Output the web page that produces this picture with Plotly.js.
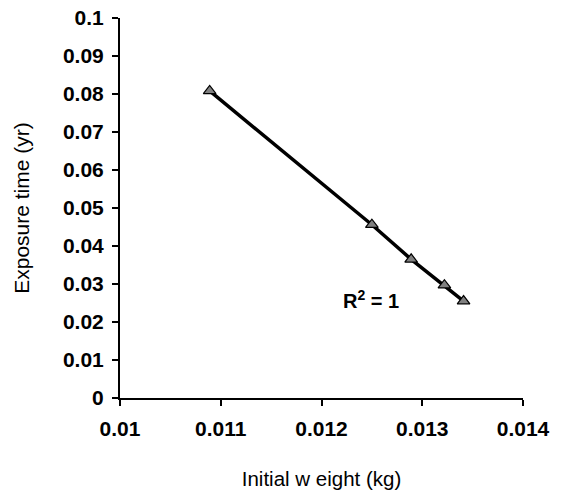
<!DOCTYPE html>
<html>
<head>
<meta charset="utf-8">
<script src="https://cdn.plot.ly/plotly-3.0.1.min.js"></script>
<style>html,body{margin:0;padding:0;background:#fff;}#chart{width:563px;height:490px;}</style>
</head>
<body>
<div id="chart"></div>
<script>
var initialWeight = [0.01089, 0.01250, 0.01289, 0.01322, 0.01341];
var exposureTime = [0.0808, 0.0456, 0.0365, 0.0297, 0.0255];
var xTickVals = [0.01, 0.011, 0.012, 0.013, 0.014];
var xTickText = ["0.01", "0.011", "0.012", "0.013", "0.014"];
var yTickVals = [0, 0.01, 0.02, 0.03, 0.04, 0.05, 0.06, 0.07, 0.08, 0.09, 0.1];
var yTickText = ["0", "0.01", "0.02", "0.03", "0.04", "0.05", "0.06", "0.07", "0.08", "0.09", "0.1"];
var r2Label = "R<sup>2</sup> = 1";

var font = "Liberation Sans, Arial, sans-serif";

var traces = [
  {
    x: initialWeight, y: exposureTime, type: "scatter", mode: "lines",
    line: {color: "#000", width: 3.5}, hoverinfo: "skip", showlegend: false
  },
  {
    x: initialWeight, y: exposureTime, type: "scatter", mode: "markers",
    marker: {symbol: "triangle-up", size: 11, color: "#808080", line: {color: "#000", width: 1.2}},
    showlegend: false
  }
];

var layout = {
  width: 563, height: 490,
  margin: {l: 120, r: 40, t: 18, b: 92},
  paper_bgcolor: "#fff", plot_bgcolor: "#fff",
  font: {family: font, color: "#000"},
  xaxis: {
    range: [0.01, 0.014], tickvals: xTickVals, ticktext: xTickText,
    showgrid: false, zeroline: false, showline: true, linecolor: "#000", linewidth: 2,
    ticks: "outside", ticklen: 6, tickwidth: 2, tickcolor: "#000",
    tickfont: {family: font, size: 21, weight: "bold"},
    ticklabelstandoff: 5,
    title: {text: "Initial w eight (kg)", font: {family: font, size: 20.5}, standoff: 32}
  },
  yaxis: {
    range: [0, 0.1], tickvals: yTickVals, ticktext: yTickText,
    showgrid: false, zeroline: false, showline: true, linecolor: "#000", linewidth: 2,
    ticks: "outside", ticklen: 6, tickwidth: 2, tickcolor: "#000",
    tickfont: {family: font, size: 21, weight: "bold"},
    ticklabelstandoff: 4,
    title: {text: "Exposure time (yr)", font: {family: font, size: 21}, standoff: 28}
  },
  annotations: [{
    x: 0.012495, y: 0.0258, xref: "x", yref: "y", text: r2Label, showarrow: false,
    font: {family: font, size: 20, weight: "bold"}
  }]
};

Plotly.newPlot("chart", traces, layout, {displayModeBar: false, staticPlot: true});
</script>
</body>
</html>
